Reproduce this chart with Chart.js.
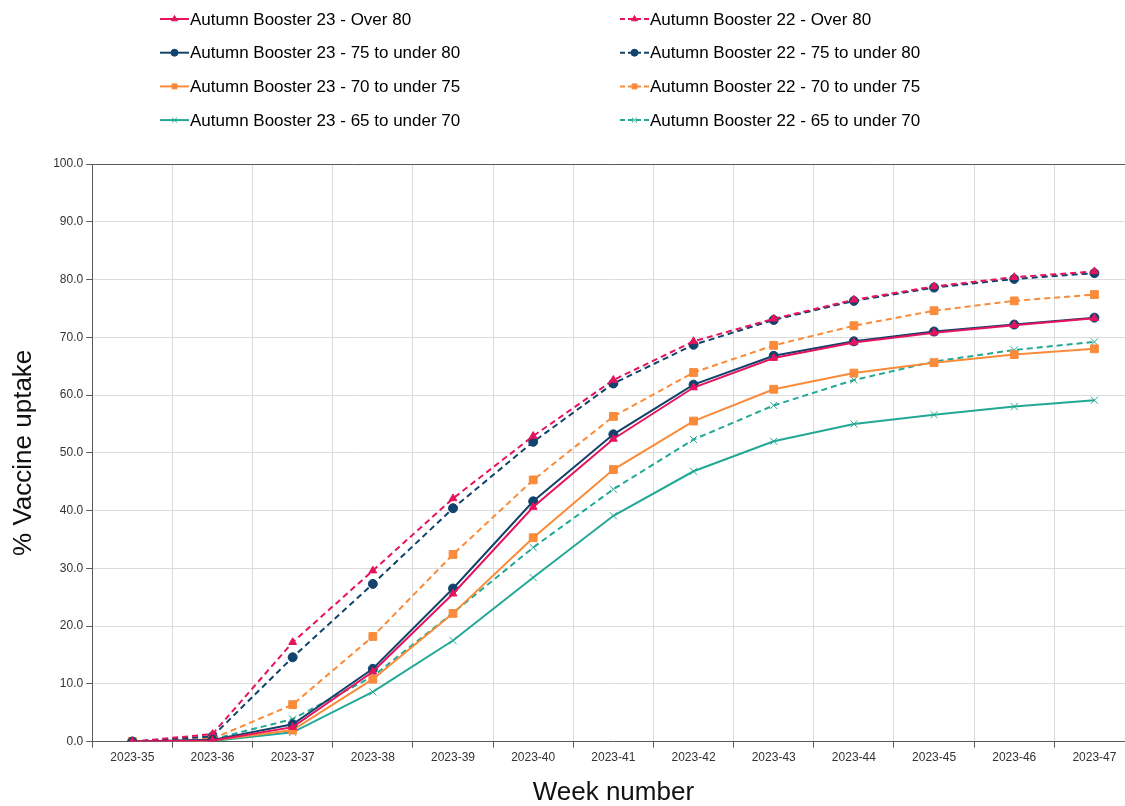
<!DOCTYPE html>
<html>
<head>
<meta charset="utf-8">
<title>Autumn booster uptake</title>
<script src="https://cdn.jsdelivr.net/npm/chart.js@4.4.0/dist/chart.umd.min.js"></script>
<style>
  html, body { margin: 0; padding: 0; overflow: hidden; background: #fff; }
  #chart_out { display: block; }
</style>
</head>
<body>
<canvas id="chart_out" width="1141" height="806"></canvas>
<script>
// week labels on the x axis
var weeks = ['2023-35', '2023-36', '2023-37', '2023-38', '2023-39', '2023-40', '2023-41',
  '2023-42', '2023-43', '2023-44', '2023-45', '2023-46', '2023-47'];

// Autumn Booster 23 (solid lines)
var ab23Over80 = [0, 0.2, 2.5, 12.1, 25.6, 40.6, 52.4, 61.3, 66.4, 69.1, 70.8, 72.1, 73.3];
var ab23Age75 = [0, 0.3, 3.0, 12.6, 26.5, 41.6, 53.2, 61.8, 66.8, 69.3, 71.0, 72.2, 73.4];
var ab23Age70 = [0, 0.2, 2.0, 10.8, 22.2, 35.3, 47.1, 55.5, 61.0, 63.8, 65.6, 67.0, 68.0];
var ab23Age65 = [0, 0.1, 1.6, 8.6, 17.5, 28.4, 39.1, 46.8, 52.0, 55.0, 56.6, 58.0, 59.1];

// Autumn Booster 22 (dashed lines)
var ab22Over80 = [0, 1.3, 17.2, 29.6, 42.1, 52.9, 62.6, 69.3, 73.2, 76.5, 78.8, 80.4, 81.4];
var ab22Age75 = [0, 0.9, 14.6, 27.3, 40.4, 51.9, 62.0, 68.7, 73.0, 76.3, 78.6, 80.1, 81.1];
var ab22Age70 = [0, 0.5, 6.4, 18.2, 32.4, 45.3, 56.3, 63.9, 68.6, 72.0, 74.6, 76.3, 77.4];
var ab22Age65 = [0, 0.4, 3.9, 11.3, 22.3, 33.6, 43.7, 52.3, 58.2, 62.6, 65.8, 67.8, 69.2];

var yTicks = [0, 10, 20, 30, 40, 50, 60, 70, 80, 90, 100];

var crimson = '#E6135E';
var navy = '#12436D';
var orange = '#F98B3A';
var teal = '#22A895';

// marker size per point style
var markerSize = { triangle: 4.5, circle: 4.5, rect: 5.5, crossRot: 5 };

function makeSet(label, data, color, style, dashed) {
  return {
    label: label,
    data: data,
    borderColor: color,
    backgroundColor: color,
    borderWidth: 2,
    borderDash: dashed ? [6, 4] : [],
    pointStyle: style,
    pointRadius: markerSize[style],
    pointBorderWidth: 1,
    pointBackgroundColor: color,
    pointBorderColor: color,
    tension: 0,
    fill: false
  };
}

var datasets = [
  makeSet('Autumn Booster 23 - Over 80', ab23Over80, crimson, 'triangle', false),
  makeSet('Autumn Booster 23 - 75 to under 80', ab23Age75, navy, 'circle', false),
  makeSet('Autumn Booster 23 - 70 to under 75', ab23Age70, orange, 'rect', false),
  makeSet('Autumn Booster 23 - 65 to under 70', ab23Age65, teal, 'crossRot', false),
  makeSet('Autumn Booster 22 - Over 80', ab22Over80, crimson, 'triangle', true),
  makeSet('Autumn Booster 22 - 75 to under 80', ab22Age75, navy, 'circle', true),
  makeSet('Autumn Booster 22 - 70 to under 75', ab22Age70, orange, 'rect', true),
  makeSet('Autumn Booster 22 - 65 to under 70', ab22Age65, teal, 'crossRot', true)
];

// legend drawn by hand: two columns, four rows
var twoColLegend = {
  id: 'twoColLegend',
  afterDraw: function(chart) {
    var ctx = chart.ctx;
    chart.data.datasets.forEach(function(ds, i) {
      var col = i < 4 ? 0 : 1;
      var row = i % 4;
      var x = col === 0 ? 160 : 620;
      var y = 19 + row * 33.7;
      ctx.save();
      ctx.strokeStyle = ds.borderColor;
      ctx.fillStyle = ds.borderColor;
      ctx.lineWidth = 2;
      ctx.setLineDash(ds.borderDash.length ? [5, 3] : []);
      ctx.beginPath();
      ctx.moveTo(x, y);
      ctx.lineTo(x + 29, y);
      ctx.stroke();
      ctx.setLineDash([]);
      if (Chart.helpers && Chart.helpers.drawPoint) {
        ctx.lineWidth = 1;
        Chart.helpers.drawPoint(ctx, { pointStyle: ds.pointStyle, radius: 3.5, borderWidth: 1, rotation: 0 }, x + 14.5, y);
      }
      ctx.fillStyle = '#000';
      ctx.font = '17px "Liberation Sans", Arial, sans-serif';
      ctx.textBaseline = 'middle';
      ctx.textAlign = 'left';
      ctx.fillText(ds.label, x + 30, y + 1);
      ctx.restore();
    });
  }
};

var ctx = document.getElementById('chart_out').getContext('2d');
var chart = new Chart(ctx, {
  type: 'line',
  data: { labels: weeks, datasets: datasets },
  options: {
    responsive: false,
    animation: false,
    layout: { padding: { top: 164, left: 8, right: 2, bottom: 0 } },
    plugins: {
      legend: { display: false },
      tooltip: { enabled: false }
    },
    scales: {
      x: {
        offset: true,
        grid: { offset: true, color: '#dcdcdc', tickColor: '#595959', tickLength: 6 },
        border: { color: '#595959', width: 1 },
        ticks: {
          color: '#333',
          font: { family: '"Liberation Sans", Arial, sans-serif', size: 12 },
          maxRotation: 0,
          autoSkip: false,
          padding: 3
        },
        title: {
          display: true,
          text: 'Week number',
          color: '#111',
          font: { family: '"Liberation Sans", Arial, sans-serif', size: 26, lineHeight: 1 },
          padding: { top: 12, bottom: 0 }
        }
      },
      y: {
        min: 0,
        max: 100,
        afterBuildTicks: function(axis) {
          axis.ticks = yTicks.map(function(v) { return { value: v }; });
        },
        grid: {
          color: function(c) { return c.tick && c.tick.value === 100 ? '#595959' : '#dcdcdc'; },
          tickColor: '#595959',
          tickLength: 6
        },
        border: { color: '#595959', width: 1 },
        ticks: {
          color: '#333',
          font: { family: '"Liberation Sans", Arial, sans-serif', size: 12 },
          padding: 3,
          callback: function(v) { return Number(v).toFixed(1); }
        },
        title: {
          display: true,
          text: '% Vaccine uptake',
          color: '#111',
          font: { family: '"Liberation Sans", Arial, sans-serif', size: 26 },
          padding: { top: 0, bottom: 11 }
        }
      }
    }
  },
  plugins: [twoColLegend]
});
</script>
</body>
</html>
